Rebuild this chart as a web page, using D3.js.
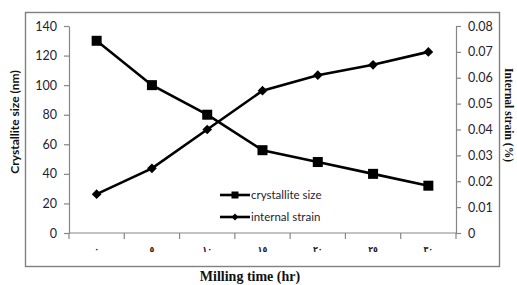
<!DOCTYPE html>
<html>
<head>
<meta charset="utf-8">
<script src="https://cdn.jsdelivr.net/npm/d3@7"></script>
<style>
  body { margin: 0; background: #fff; }
  svg { display: block; }
</style>
</head>
<body>
<svg width="517" height="285"></svg>
<script>
// data
const times = ["٠", "٥", "١٠", "١٥", "٢٠", "٢٥", "٣٠"];
const crystalliteSize = [130, 100, 80, 56, 48, 40, 32];
const internalStrain = [0.015, 0.025, 0.04, 0.055, 0.061, 0.065, 0.07];
const leftTicks = [0, 20, 40, 60, 80, 100, 120, 140];
const rightTicks = [0, 0.01, 0.02, 0.03, 0.04, 0.05, 0.06, 0.07, 0.08];

const svg = d3.select("svg");
const plotLeft = 69, plotRight = 456, plotTop = 26, plotBottom = 233;
const tickFont = "Lato, 'Open Sans', sans-serif";

// outer frame
svg.append("rect")
  .attr("x", 25.5).attr("y", 12.5)
  .attr("width", 474).attr("height", 254)
  .attr("fill", "none")
  .attr("stroke", "#808080")
  .attr("stroke-width", 1.4);

const x = d3.scaleBand().domain(times).range([plotLeft, plotRight]);
const yL = d3.scaleLinear().domain([0, 140]).range([plotBottom, plotTop]);
const yR = d3.scaleLinear().domain([0, 0.08]).range([plotBottom, plotTop]);

// x axis with tick marks between categories
const gx = svg.append("g").attr("transform", `translate(0,${plotBottom})`);
gx.append("line")
  .attr("x1", plotLeft).attr("x2", plotRight)
  .attr("stroke", "#868686").attr("stroke-width", 1.2);
gx.selectAll(".tk")
  .data(d3.range(times.length + 1))
  .join("line")
  .attr("x1", (i) => plotLeft + i * x.step())
  .attr("x2", (i) => plotLeft + i * x.step())
  .attr("y1", 0).attr("y2", 6)
  .attr("stroke", "#868686").attr("stroke-width", 1.2);
gx.selectAll("text")
  .data(times)
  .join("text")
  .attr("x", (d) => x(d) + x.bandwidth() / 2)
  .attr("y", 19)
  .attr("text-anchor", "middle")
  .attr("font-family", "'DejaVu Sans', sans-serif")
  .attr("font-weight", "bold")
  .attr("font-size", 8)
  .attr("fill", "#222")
  .text((d) => d);

// left axis
const gl = svg.append("g").attr("transform", `translate(${plotLeft},0)`)
  .call(d3.axisLeft(yL).tickValues(leftTicks).tickSize(5).tickSizeOuter(0).tickPadding(7));
// right axis
const gr = svg.append("g").attr("transform", `translate(${plotRight},0)`)
  .call(d3.axisRight(yR).tickValues(rightTicks).tickSize(5).tickSizeOuter(0).tickPadding(7)
    .tickFormat((d) => (d === 0 ? "0" : d3.format(".2f")(d))));
[gl, gr].forEach((g) => {
  g.selectAll("path, line").attr("stroke", "#868686").attr("stroke-width", 1.2);
  g.selectAll("text")
    .attr("font-family", tickFont)
    .attr("font-size", 12.5)
    .attr("fill", "#1f2233");
});

// series
const sizeLine = d3.line().x((d, i) => x(times[i]) + x.bandwidth() / 2).y((d) => yL(d));
const strainLine = d3.line().x((d, i) => x(times[i]) + x.bandwidth() / 2).y((d) => yR(d));

svg.append("path").datum(crystalliteSize)
  .attr("d", sizeLine).attr("fill", "none")
  .attr("stroke", "#000").attr("stroke-width", 2.6);
svg.append("path").datum(internalStrain)
  .attr("d", strainLine).attr("fill", "none")
  .attr("stroke", "#000").attr("stroke-width", 2.6);

svg.append("g").selectAll("rect")
  .data(crystalliteSize)
  .join("rect")
  .attr("x", (d, i) => x(times[i]) + x.bandwidth() / 2 - 5)
  .attr("y", (d) => yL(d) - 5)
  .attr("width", 10).attr("height", 10)
  .attr("fill", "#000");

const diamond = d3.symbol().type(d3.symbolDiamond2).size(60);
svg.append("g").selectAll("path")
  .data(internalStrain)
  .join("path")
  .attr("d", diamond)
  .attr("transform", (d, i) => `translate(${x(times[i]) + x.bandwidth() / 2},${yR(d)})`)
  .attr("fill", "#000");

// legend
const legend = svg.append("g").attr("transform", "translate(220,0)");
const items = [
  { label: "crystallite size", y: 195, mark: "square" },
  { label: "internal strain", y: 217, mark: "diamond" }
];
items.forEach((it) => {
  legend.append("line")
    .attr("x1", 0).attr("x2", 30)
    .attr("y1", it.y).attr("y2", it.y)
    .attr("stroke", "#000").attr("stroke-width", 2.6);
  if (it.mark === "square") {
    legend.append("rect")
      .attr("x", 11.5).attr("y", it.y - 3.5)
      .attr("width", 7).attr("height", 7).attr("fill", "#000");
  } else {
    legend.append("path")
      .attr("d", d3.symbol().type(d3.symbolDiamond2).size(30))
      .attr("transform", `translate(15,${it.y})`).attr("fill", "#000");
  }
  legend.append("text")
    .attr("x", 31).attr("y", it.y + 4)
    .attr("font-family", tickFont)
    .attr("font-size", 11.5)
    .attr("fill", "#1f2233")
    .text(it.label);
});

// axis titles
svg.append("text")
  .attr("transform", "translate(19,122) rotate(-90)")
  .attr("text-anchor", "middle")
  .attr("font-family", tickFont)
  .attr("font-weight", "bold")
  .attr("font-size", 12)
  .attr("fill", "#111")
  .text("Crystallite size (nm)");

svg.append("text")
  .attr("transform", "translate(505,115) rotate(90)")
  .attr("text-anchor", "middle")
  .attr("font-family", "'Liberation Serif', serif")
  .attr("font-weight", "bold")
  .attr("font-size", 11.5)
  .attr("fill", "#111")
  .text("Internal strain (%)");

svg.append("text")
  .attr("x", 250).attr("y", 281)
  .attr("text-anchor", "middle")
  .attr("font-family", "'Liberation Serif', serif")
  .attr("font-weight", "bold")
  .attr("font-size", 14)
  .attr("fill", "#111")
  .text("Milling time (hr)");
</script>
</body>
</html>
